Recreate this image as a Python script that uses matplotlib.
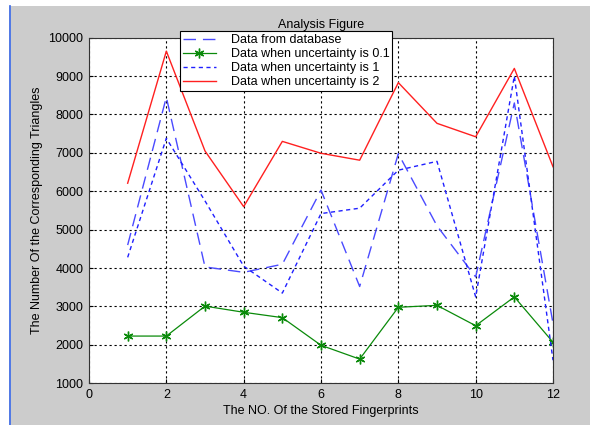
import matplotlib.pyplot as plt
from matplotlib.patches import Rectangle
from matplotlib.lines import Line2D

plt.rcParams['font.family'] = ['Liberation Sans', 'DejaVu Sans']

# stored fingerprint index
fingerprints = [1, 2, 3, 4, 5, 6, 7, 8, 9, 10, 11, 12]

# number of corresponding triangles for each case
from_database = [4600, 8450, 4030, 3890, 4100, 6030, 3520, 6980, 5100, 3770, 8300, 2560]
uncert_01 = [2230, 2230, 3010, 2850, 2710, 1990, 1630, 2980, 3030, 2500, 3250, 2070]
uncert_1 = [4280, 7380, 5750, 4050, 3350, 5420, 5560, 6550, 6780, 3250, 9000, 1600]
uncert_2 = [6210, 9650, 7050, 5600, 7300, 6990, 6810, 8830, 7770, 7420, 9200, 6640]

legend_labels = ['Data from database', 'Data when uncertainty is 0.1',
                 'Data when uncertainty is 1', 'Data when uncertainty is 2']

W, H = 601, 425
fig = plt.figure(figsize=(W / 100, H / 100), dpi=100)
fig.patch.set_facecolor('white')

# grey window background with blue left border
fig.patches.append(Rectangle((11 / W, 0), 579 / W, 419 / H, transform=fig.transFigure,
                             facecolor='#cccccc', edgecolor='none', zorder=-10))
fig.lines.append(Line2D([10.5 / W, 10.5 / W], [0, 419 / H], transform=fig.transFigure,
                        color='#3060e0', linewidth=1.2))

ax = fig.add_axes([89 / W, 1 - 383.3 / H, 464 / W, 345.6 / H])
ax.set_facecolor('white')

ax.plot(fingerprints, from_database, color='#4a4aff', linestyle=(0, (9, 5)),
        linewidth=1.0, label=legend_labels[0])
ax.plot(fingerprints, uncert_01, color='#0a8a0a', linestyle='-', marker=(6, 2, 0),
        markersize=7, markeredgewidth=1.0, linewidth=0.9, label=legend_labels[1])
ax.plot(fingerprints, uncert_1, color='#2020ff', linestyle=(0, (3, 2.5)),
        linewidth=1.0, label=legend_labels[2])
ax.plot(fingerprints, uncert_2, color='#ff2020', linestyle='-',
        linewidth=1.0, label=legend_labels[3])

ax.set_xlim(0, 12)
ax.set_ylim(1000, 10000)
ax.set_xticks(range(0, 13, 2))
ax.set_yticks(range(1000, 10001, 1000))
ax.tick_params(direction='in', length=3, labelsize=9, colors='black', pad=4)
ax.grid(True, color='black', linestyle=(0, (2, 2.5)), linewidth=0.8)
for s in ax.spines.values():
    s.set_color('#333333')
    s.set_linewidth(0.8)

ax.set_title('Analysis Figure', fontsize=9, pad=7)
ax.set_xlabel('The NO. Of the Stored Fingerprints', fontsize=9, labelpad=3)
ax.set_ylabel('The Number Of the Corresponding Triangles', fontsize=9, labelpad=4)

leg = ax.legend(loc='upper left', bbox_to_anchor=(0.196, 1.019), fontsize=9,
                frameon=True, fancybox=False, framealpha=1, edgecolor='black',
                borderpad=0.25, labelspacing=0.15, handlelength=2.6,
                handletextpad=1.2, borderaxespad=0, numpoints=1)
leg.get_frame().set_linewidth(0.8)

fig.savefig('out.png', dpi=100)
